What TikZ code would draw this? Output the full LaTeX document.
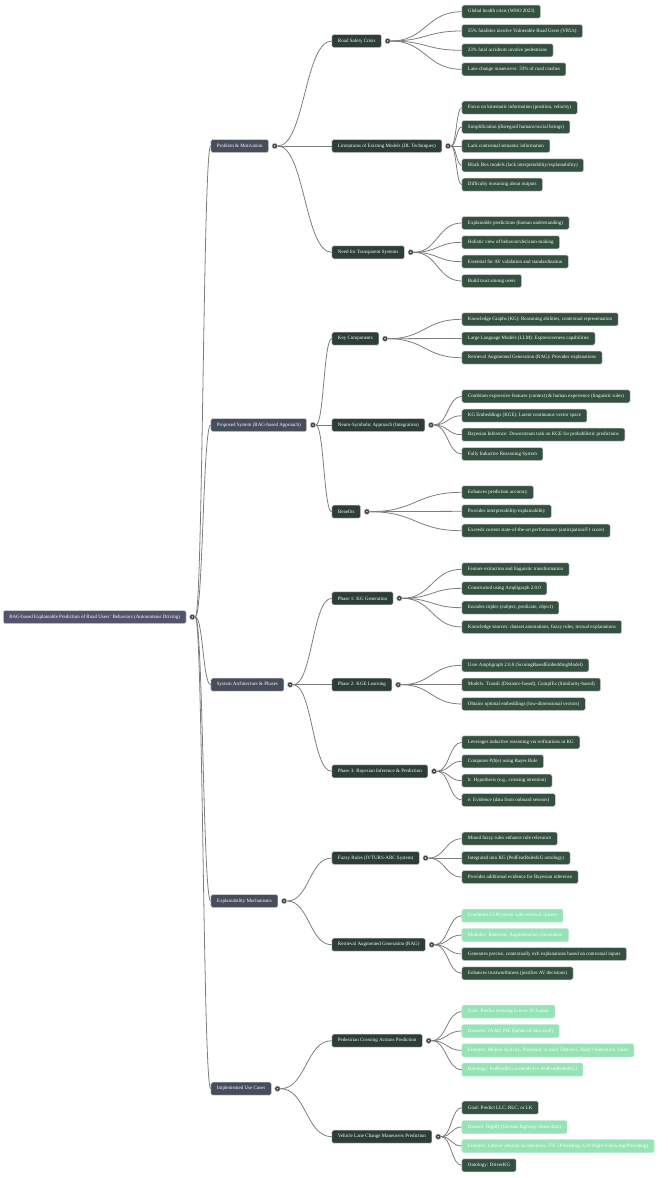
\documentclass[tikz,border=0pt]{standalone}
\usepackage{fontspec}
\setmainfont{Liberation Serif}
\usepackage{xcolor}
\usetikzlibrary{positioning,calc}
\definecolor{slateRoot}{RGB}{82,83,108}
\definecolor{slateTopic}{RGB}{72,77,92}
\definecolor{greenSub}{RGB}{44,62,54}
\definecolor{greenLeaf}{RGB}{52,80,64}
\definecolor{mintLeaf}{RGB}{150,228,182}
\definecolor{knobGray}{RGB}{62,66,72}
\definecolor{linkGray}{RGB}{125,125,125}
\tikzset{
  box/.style={rectangle, rounded corners=1.5pt, draw=gray!35, line width=0.5pt,
              text=white, font=\fontsize{5}{6}\selectfont, minimum height=13pt,
              inner xsep=6pt, inner ysep=0pt, anchor=west},
  rootbox/.style={box, fill=slateRoot},
  topicbox/.style={box, fill=slateTopic},
  subbox/.style={box, fill=greenSub},
  leafbox/.style={box, fill=greenLeaf},
  mintbox/.style={box, fill=mintLeaf, draw=mintLeaf!70!white},
  knob/.style={circle, fill=knobGray, draw=gray!45, line width=0.5pt,
               inner sep=0pt, minimum size=5.5pt,
               path picture={\fill[gray!30] (path picture bounding box.center) circle (0.9pt);}},
  link/.style={draw=linkGray, line width=0.8pt},
}
\newcommand{\ramo}[2]{\draw[link] let \p1=(#1.east), \p2=(#2.west) in
  (\p1) .. controls ({(\x1+\x2)/2},\y1) and ({(\x1+\x2)/2},\y2) .. (\p2);}

\begin{document}
\begin{tikzpicture}[x=1pt, y=-1pt]
  \useasboundingbox (0,0) rectangle (667,1178);
  % root and main topics
  \node[rootbox] (root) at (3,617) {RAG-based Explainable Prediction of Road Users' Behaviors (Autonomous Driving)};
  \node[knob, right=3pt of root] (rootk) {};
  \node[topicbox] (pm) at (210.7,146) {Problem \& Motivation};
  \node[topicbox] (ps) at (210.7,425) {Proposed System (RAG-based Approach)};
  \node[topicbox] (sa) at (210.7,684.7) {System Architecture \& Phases};
  \node[topicbox] (em) at (210.7,901) {Explainability Mechanisms};
  \node[topicbox] (uc) at (210.7,1088.7) {Implemented Use Cases};
  \node[knob, right=3pt of pm] (pmk) {};
  \node[knob, right=3pt of ps] (psk) {};
  \node[knob, right=3pt of sa] (sak) {};
  \node[knob, right=3pt of em] (emk) {};
  \node[knob, right=3pt of uc] (uck) {};
  % sub topics
  \node[subbox] (rsc) at (331.7,41) {Road Safety Crisis};
  \node[subbox] (lim) at (331.7,146) {Limitations of Existing Models (DL Techniques)};
  \node[subbox] (nts) at (331.7,252.3) {Need for Transparent Systems};
  \node[subbox] (kc) at (331.7,338.7) {Key Components};
  \node[subbox] (nsa) at (331.7,425) {Neuro-Symbolic Approach (Integration)};
  \node[subbox] (ben) at (331.7,511.7) {Benefits};
  \node[subbox] (ph1) at (331.7,598.3) {Phase 1: KG Generation};
  \node[subbox] (ph2) at (331.7,684.7) {Phase 2: KGE Learning};
  \node[subbox] (ph3) at (331.7,771.3) {Phase 3: Bayesian Inference \& Prediction};
  \node[subbox] (fr) at (331.7,858) {Fuzzy Rules (IVTURS-ARC System)};
  \node[subbox] (rag) at (331.7,944.7) {Retrieval Augmented Generation (RAG)};
  \node[subbox] (pca) at (331.7,1040.7) {Pedestrian Crossing Actions Prediction};
  \node[subbox] (vlc) at (331.7,1136.7) {Vehicle Lane Change Maneuvers Prediction};
  \foreach \s in {rsc,lim,nts,kc,nsa,ben,ph1,ph2,ph3,fr,rag,pca,vlc}
    \node[knob, right=3pt of \s] (\s k) {};
  % leaves
  \node[leafbox] (rsc1) at (461.7,11.7) {Global health crisis (WHO 2023)};
  \node[leafbox] (rsc2) at (461.7,31) {55\% fatalities involve Vulnerable Road Users (VRUs)};
  \node[leafbox] (rsc3) at (461.7,50.3) {23\% fatal accidents involve pedestrians};
  \node[leafbox] (rsc4) at (461.7,69.3) {Lane change maneuvers: 33\% of road crashes};
  \node[leafbox] (lim1) at (461.7,107.7) {Focus on kinematic information (position, velocity)};
  \node[leafbox] (lim2) at (461.7,127) {Simplification (disregard humans/social beings)};
  \node[leafbox] (lim3) at (461.7,146) {Lack contextual semantic information};
  \node[leafbox] (lim4) at (461.7,165.3) {Black Box models (lack interpretability/explainability)};
  \node[leafbox] (lim5) at (461.7,184.7) {Difficulty reasoning about outputs};
  \node[leafbox] (nts1) at (461.7,223) {Explainable predictions (human understanding)};
  \node[leafbox] (nts2) at (461.7,242.3) {Holistic view of behavior/decision-making};
  \node[leafbox] (nts3) at (461.7,261.7) {Essential for AV validation and standardization};
  \node[leafbox] (nts4) at (461.7,281) {Build trust among users};
  \node[leafbox] (kc1) at (461.7,319.3) {Knowledge Graphs (KG): Reasoning abilities, contextual representation};
  \node[leafbox] (kc2) at (461.7,338.5) {Large Language Models (LLM): Expressiveness capabilities};
  \node[leafbox] (kc3) at (461.7,357.7) {Retrieval Augmented Generation (RAG): Provides explanations};
  \node[leafbox] (nsa1) at (461.7,396.3) {Combines expressive features (context) \& human experience (linguistic rules)};
  \node[leafbox] (nsa2) at (461.7,415.7) {KG Embeddings (KGE): Latent continuous vector space};
  \node[leafbox] (nsa3) at (461.7,434.7) {Bayesian Inference: Downstream task on KGE for probabilistic predictions};
  \node[leafbox] (nsa4) at (461.7,454) {Fully Inductive Reasoning System};
  \node[leafbox] (ben1) at (461.7,492.3) {Enhances prediction accuracy};
  \node[leafbox] (ben2) at (461.7,511.3) {Provides interpretability/explainability};
  \node[leafbox] (ben3) at (461.7,530.7) {Exceeds current state-of-the-art performance (anticipation/F1 score)};
  \node[leafbox] (ph11) at (461.7,569.3) {Feature extraction and linguistic transformation};
  \node[leafbox] (ph12) at (461.7,588.3) {Constructed using Ampligraph 2.0.0};
  \node[leafbox] (ph13) at (461.7,607.7) {Encodes triples (subject, predicate, object)};
  \node[leafbox] (ph14) at (461.7,627) {Knowledge sources: dataset annotations, fuzzy rules, textual explanations};
  \node[leafbox] (ph21) at (461.7,665.3) {Uses Ampligraph 2.0.0 (ScoringBasedEmbeddingModel)};
  \node[leafbox] (ph22) at (461.7,684.7) {Models: TransE (Distance-based), ComplEx (Similarity-based)};
  \node[leafbox] (ph23) at (461.7,704) {Obtains optimal embeddings (low-dimensional vectors)};
  \node[leafbox] (ph31) at (461.7,742.3) {Leverages inductive reasoning via reifications in KG};
  \node[leafbox] (ph32) at (461.7,761.3) {Computes P(h|e) using Bayes Rule};
  \node[leafbox] (ph33) at (461.7,780.7) {h: Hypothesis (e.g., crossing intention)};
  \node[leafbox] (ph34) at (461.7,800) {e: Evidence (data from onboard sensors)};
  \node[leafbox] (fr1) at (461.7,838.7) {Mined fuzzy rules enhance rule relevance};
  \node[leafbox] (fr2) at (461.7,858) {Integrated into KG (PedFeatRulesKG ontology)};
  \node[leafbox] (fr3) at (461.7,877) {Provides additional evidence for Bayesian inference};
  \node[mintbox] (rag1) at (461.7,915.7) {Combines LLM power with retrieval system};
  \node[mintbox] (rag2) at (461.7,935) {Modules: Retrieval, Augmentation, Generation};
  \node[leafbox] (rag3) at (461.7,954) {Generates precise, contextually rich explanations based on contextual inputs};
  \node[leafbox] (rag4) at (461.7,973.3) {Enhances trustworthiness (justifies AV decisions)};
  \node[mintbox] (pca1) at (461.7,1011.7) {Goal: Predict crossing in next 30 frames};
  \node[mintbox] (pca2) at (461.7,1031) {Datasets: JAAD, PIE (balanced data used)};
  \node[mintbox] (pca3) at (461.7,1050.3) {Features: Motion Activity, Proximity to road, Distance, Body Orientation, Gaze};
  \node[mintbox] (pca4) at (461.7,1069.7) {Ontology: PedFeatKG (extended to PedFeatRulesKG)};
  \node[leafbox] (vlc1) at (461.7,1107.7) {Goal: Predict LLC, RLC, or LK};
  \node[mintbox] (vlc2) at (461.7,1127) {Dataset: HighD (German highway drone data)};
  \node[mintbox] (vlc3) at (461.7,1146) {Features: Lateral velocity/acceleration, TTC (Preceding, Left/Right Following/Preceding)};
  \node[leafbox] (vlc4) at (461.7,1165.3) {Ontology: DriverKG};
  % connectors
  \ramo{rootk}{pm} \ramo{rootk}{ps} \ramo{rootk}{sa} \ramo{rootk}{em} \ramo{rootk}{uc}
  \ramo{pmk}{rsc} \ramo{pmk}{lim} \ramo{pmk}{nts}
  \ramo{psk}{kc} \ramo{psk}{nsa} \ramo{psk}{ben}
  \ramo{sak}{ph1} \ramo{sak}{ph2} \ramo{sak}{ph3}
  \ramo{emk}{fr} \ramo{emk}{rag}
  \ramo{uck}{pca} \ramo{uck}{vlc}
  \foreach \l in {1,...,4} {\ramo{rsck}{rsc\l} \ramo{ntsk}{nts\l} \ramo{nsak}{nsa\l}
    \ramo{ph1k}{ph1\l} \ramo{ph3k}{ph3\l} \ramo{ragk}{rag\l} \ramo{pcak}{pca\l} \ramo{vlck}{vlc\l}}
  \foreach \l in {1,...,5} {\ramo{limk}{lim\l}}
  \foreach \l in {1,...,3} {\ramo{kck}{kc\l} \ramo{benk}{ben\l} \ramo{ph2k}{ph2\l} \ramo{frk}{fr\l}}
\end{tikzpicture}
\end{document}
